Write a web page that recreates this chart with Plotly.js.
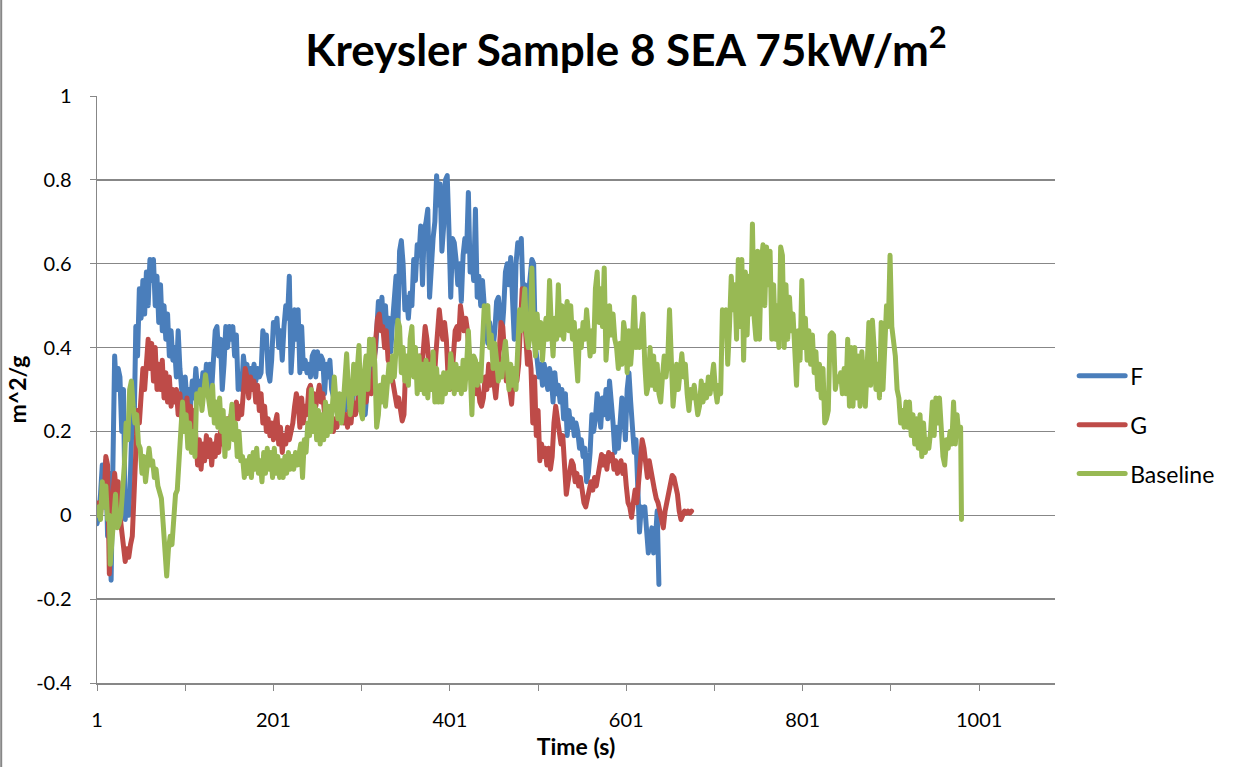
<!DOCTYPE html>
<html>
<head>
<meta charset="utf-8">
<script src="https://cdn.plot.ly/plotly-3.0.1.min.js"></script>
<style>
html,body{margin:0;padding:0;background:#fff;}
#chart{width:1247px;height:767px;}
.scatterlayer path.js-line, .legend path.js-line{stroke-linejoin:round;stroke-linecap:round;}
</style>
</head>
<body>
<div id="chart"></div>
<script>
// [time (s), m^2/g]
const seriesF = [[1,-0.02],[3,0.0],[5,0.05],[7,0.12],[9,0.02],[11,0.13],[13,-0.05],[15,0.1],[17,-0.155],[19,0.05],[21,0.38],[23,0.3],[25,0.35],[27,0.33],[29,0.2],[31,0.3],[33,-0.01],[35,0.05],[37,0.0],[39,0.1],[41,0.25],[43,0.2],[45,0.45],[47,0.38],[49,0.54],[51,0.47],[53,0.56],[55,0.48],[57,0.58],[59,0.5],[61,0.61],[63,0.56],[65,0.61],[67,0.5],[69,0.57],[71,0.46],[73,0.55],[75,0.44],[77,0.5],[79,0.42],[81,0.48],[83,0.38],[85,0.44],[87,0.37],[89,0.4],[91,0.33],[93,0.44],[95,0.35],[97,0.3],[99,0.25],[101,0.33],[103,0.27],[105,0.3],[107,0.26],[109,0.32],[111,0.28],[113,0.35],[115,0.3],[117,0.32],[119,0.29],[121,0.34],[123,0.3],[125,0.36],[127,0.29],
[129,0.36],[131,0.3],[133,0.37],[135,0.44],[137,0.45],[139,0.38],[141,0.42],[143,0.3],[145,0.36],[147,0.45],[149,0.4],[151,0.45],[153,0.42],[155,0.45],[157,0.38],[159,0.43],[161,0.3],[163,0.33],[165,0.3],[167,0.38],[169,0.34],[171,0.36],[173,0.32],[175,0.35],[177,0.33],[179,0.36],[181,0.32],[183,0.35],[185,0.33],[187,0.34],[189,0.44],[191,0.42],[193,0.43],[195,0.34],[197,0.32],[199,0.37],[201,0.46],[203,0.44],[205,0.47],[207,0.4],[209,0.44],[211,0.37],[213,0.45],[215,0.5],[217,0.47],[219,0.57],[221,0.34],[223,0.45],[225,0.49],[227,0.42],[229,0.49],[231,0.34],[233,0.45],[235,0.35],[237,0.37],[239,0.34],[241,0.36],[243,0.33],[245,0.38],[247,0.39],[249,0.33],
[251,0.39],[253,0.35],[255,0.38],[257,0.37],[259,0.29],[261,0.36],[263,0.33],[265,0.37],[267,0.3],[270,0.27],[274,0.24],[278,0.28],[282,0.25],[286,0.3],[290,0.27],[294,0.31],[298,0.28],[302,0.3],[305,0.24],[308,0.32],[311,0.3],[314,0.36],[317,0.4],[320,0.51],[322,0.46],[324,0.52],[326,0.44],[328,0.5],[330,0.42],[332,0.47],[334,0.39],[336,0.46],[338,0.52],[340,0.57],[342,0.44],[344,0.63],[346,0.655],[348,0.6],[350,0.49],[352,0.52],[354,0.47],[356,0.53],[358,0.5],[360,0.61],[362,0.56],[364,0.645],[366,0.62],[368,0.69],[370,0.55],[372,0.68],[374,0.7],[376,0.73],[378,0.52],
[380,0.62],[382,0.66],[384,0.7],[386,0.81],[388,0.74],[390,0.79],[392,0.63],[394,0.69],[396,0.8],[398,0.81],[400,0.68],[402,0.52],[404,0.66],[406,0.65],[408,0.61],[410,0.55],[412,0.6],[414,0.51],[416,0.62],[418,0.66],[420,0.63],[422,0.77],[424,0.58],[426,0.62],[428,0.56],[430,0.73],[432,0.52],[434,0.57],[436,0.5],[438,0.56],[440,0.5],[442,0.45],[444,0.41],[446,0.46],[448,0.43],[450,0.4],[452,0.44],[454,0.51],[456,0.52],[458,0.47],[460,0.43],[462,0.49],[464,0.58],[466,0.6],[468,0.55],[470,0.615],[472,0.5],[474,0.42],[476,0.6],[478,0.65],[480,0.63],[482,0.66],[484,0.52],[486,0.55],[488,0.48],[490,0.53],[492,0.57],[494,0.61],[496,0.6],[498,0.4],[500,0.37],[502,0.33],[504,0.36],
[506,0.31],[508,0.36],[510,0.33],[512,0.3],[514,0.35],[516,0.33],[518,0.27],[520,0.34],[522,0.29],[524,0.31],[526,0.27],[528,0.3],[530,0.23],[532,0.29],[534,0.19],[536,0.25],[538,0.21],[540,0.23],[542,0.19],[544,0.22],[546,0.2],[548,0.16],[550,0.18],[552,0.14],[554,0.16],[556,0.08],[558,0.1],[560,0.15],[562,0.24],[564,0.2],[566,0.23],[568,0.29],[570,0.26],[572,0.21],[574,0.28],[576,0.24],[578,0.3],[580,0.23],[582,0.32],[584,0.28],[586,0.22],[588,0.15],[590,0.21],[592,0.16],[594,0.22],[596,0.28],[598,0.25],[600,0.18],[602,0.3],[604,0.34],[606,0.27],[608,0.2],[610,0.15],[612,0.18],[614,0.03],[616,-0.04],[618,0.02],[620,0.0],[622,0.02],[624,-0.05],[626,-0.09],[628,-0.06],[630,-0.03],[632,-0.09],[634,-0.06],[636,0.01],[638,-0.165]];

const seriesG = [[1,0.01],[3,0.03],[5,0.0],[7,0.06],[9,0.03],[11,0.14],[13,0.12],[14,-0.14],[15,-0.14],[17,0.0],[19,0.04],[21,0.1],[23,0.05],[25,0.08],[27,0.0],[29,-0.03],[31,-0.08],[33,-0.11],[35,-0.08],[37,-0.1],[39,-0.07],[41,-0.05],[43,0.05],[45,0.15],[47,0.25],[49,0.22],[51,0.3],[53,0.35],[55,0.3],[57,0.38],[59,0.42],[61,0.35],[63,0.41],[65,0.32],[67,0.4],[69,0.3],[71,0.36],[73,0.3],[75,0.37],[77,0.28],[79,0.34],[81,0.27],[83,0.33],[85,0.26],[87,0.3],[89,0.27],[91,0.3],[93,0.24],[95,0.29],[97,0.23],[99,0.27],[101,0.23],[103,0.28],[105,0.22],[107,0.26],[109,0.21],[111,0.25],[113,0.19],[115,0.12],[117,0.18],[119,0.11],[121,0.17],[123,0.13],[125,0.19],[127,0.14],
[129,0.18],[131,0.12],[133,0.17],[135,0.14],[137,0.19],[139,0.15],[141,0.2],[143,0.17],[145,0.22],[147,0.18],[149,0.23],[151,0.19],[153,0.24],[155,0.2],[157,0.25],[159,0.27],[161,0.23],[163,0.26],[165,0.24],[167,0.3],[169,0.35],[171,0.33],[173,0.28],[175,0.33],[177,0.3],[179,0.32],[181,0.27],[183,0.31],[185,0.25],[187,0.29],[189,0.22],[191,0.26],[193,0.2],[195,0.23],[197,0.19],[199,0.22],[201,0.18],[203,0.22],[205,0.24],[207,0.17],[209,0.21],[211,0.15],[213,0.19],[215,0.17],[217,0.21],[219,0.18],[221,0.2],[223,0.22],[225,0.26],[227,0.29],[229,0.27],[231,0.21],[233,0.28],[235,0.22],[237,0.26],[239,0.24],[241,0.3],[243,0.31],[245,0.28],[247,0.29],[249,0.26],[251,0.28],
[253,0.31],[255,0.27],[257,0.29],[259,0.24],[261,0.22],[263,0.21],[265,0.2],[267,0.22],[269,0.2],[271,0.23],[273,0.21],[275,0.24],[277,0.23],[279,0.25],[281,0.22],[283,0.24],[285,0.21],[287,0.25],[289,0.22],[291,0.27],[294,0.24],[297,0.28],[300,0.25],[303,0.3],[306,0.27],[309,0.32],[312,0.29],[315,0.35],[317,0.42],[319,0.47],[321,0.48],[323,0.44],[325,0.45],[327,0.4],[329,0.44],[331,0.37],[333,0.36],[335,0.33],[337,0.3],[339,0.29],[341,0.26],[343,0.28],[345,0.25],[347,0.225],[349,0.24],[351,0.36],[353,0.34],[355,0.38],[357,0.35],[359,0.38],[361,0.34],[363,0.37],[365,0.35],[367,0.38],[369,0.34],[371,0.4],[373,0.45],[375,0.42],[377,0.38],
[379,0.33],[381,0.36],[383,0.31],[385,0.38],[387,0.43],[389,0.49],[391,0.45],[393,0.42],[395,0.46],[397,0.42],[399,0.33],[401,0.3],[403,0.32],[405,0.38],[407,0.44],[409,0.45],[411,0.42],[413,0.5],[415,0.46],[417,0.44],[419,0.47],[421,0.44],[423,0.38],[425,0.34],[427,0.3],[429,0.34],[431,0.29],[433,0.31],[435,0.27],[437,0.26],[439,0.28],[441,0.33],[443,0.3],[445,0.36],[447,0.31],[449,0.35],[451,0.31],[453,0.28],[455,0.33],[457,0.4],[459,0.46],[461,0.45],[463,0.4],[465,0.32],[467,0.33],[469,0.3],[471,0.265],[473,0.33],[475,0.35],[477,0.32],[479,0.36],[481,0.45],[483,0.54],[485,0.5],[487,0.4],[489,0.36],[491,0.39],[493,0.35],[495,0.22],[497,0.33],[499,0.19],[501,0.25],[503,0.13],
[505,0.17],[507,0.14],[509,0.16],[511,0.12],[513,0.16],[515,0.11],[517,0.14],[519,0.22],[521,0.26],[523,0.23],[525,0.2],[527,0.17],[529,0.19],[531,0.09],[533,0.05],[535,0.08],[537,0.1],[539,0.13],[541,0.12],[543,0.08],[545,0.1],[547,0.07],[549,0.09],[551,0.05],[553,0.03],[555,0.02],[557,0.04],[559,0.06],[561,0.08],[563,0.06],[565,0.09],[567,0.07],[569,0.1],[571,0.11],[573,0.145],[575,0.12],[577,0.14],[579,0.11],[581,0.15],[583,0.13],[585,0.145],[587,0.11],[589,0.13],[591,0.1],[593,0.12],[595,0.13],[597,0.1],[599,0.12],[601,0.07],[603,0.03],[605,0.02],[607,-0.005],[609,0.03],[611,0.06],[613,0.03],[615,0.08],[617,0.14],[619,0.18],[621,0.16],[623,0.12],[625,0.09],[627,0.13],[629,0.1],[631,0.09],[633,0.06],[635,0.04],[637,0.03],[639,0.01],[641,-0.01],[643,-0.03],[645,0.01],[647,0.03],[649,0.05],[651,0.08],[653,0.095],[655,0.09],[657,0.07],[659,0.05],[661,0.01],[663,-0.01],[665,0.0],[667,0.01],[669,0.005],[671,0.01],[673,0.005],[675,0.01]];

const seriesBaseline = [[1,0.0],[3,0.02],[5,-0.01],[7,0.08],[9,0.02],[11,0.07],[13,-0.01],[15,0.0],[16,-0.117],[18,-0.05],[20,0.03],[22,0.05],[24,-0.03],[26,-0.02],[28,0.0],[30,0.05],[32,0.12],[34,0.22],[36,0.18],[38,0.3],[40,0.32],[42,0.26],[44,0.22],[46,0.24],[48,0.17],[50,0.16],[52,0.1],[54,0.14],[56,0.08],[58,0.12],[60,0.16],[62,0.12],[64,0.13],[66,0.09],[68,0.11],[70,0.07],[72,0.05],[74,0.04],[76,-0.02],[78,-0.1],[80,-0.145],[82,-0.08],[84,-0.05],[86,-0.07],[88,-0.01],[90,0.05],[92,0.06],[94,0.12],[96,0.21],[98,0.27],[100,0.2],[102,0.24],[104,0.16],[106,0.22],[108,0.15],[110,0.2],[112,0.14],[114,0.29],[116,0.27],[118,0.3],[120,0.25],[122,0.31],[124,0.335],[126,0.3],[128,0.27],
[130,0.24],[132,0.31],[134,0.22],[136,0.27],[138,0.21],[140,0.28],[142,0.2],[144,0.25],[146,0.14],[148,0.23],[150,0.16],[152,0.22],[154,0.265],[156,0.18],[158,0.22],[160,0.14],[162,0.2],[164,0.13],[166,0.14],[168,0.09],[170,0.13],[172,0.1],[174,0.14],[176,0.09],[178,0.15],[180,0.11],[182,0.16],[184,0.1],[186,0.13],[188,0.08],[190,0.15],[192,0.1],[194,0.16],[196,0.11],[198,0.15],[200,0.09],[202,0.16],[204,0.1],[206,0.14],[208,0.09],[210,0.13],[212,0.09],[214,0.14],[216,0.1],[218,0.15],[220,0.11],[222,0.14],[224,0.11],[226,0.15],[228,0.12],[230,0.14],[232,0.17],[234,0.09],[236,0.18],[238,0.15],[240,0.22],[242,0.19],[244,0.3],[246,0.2],[248,0.26],[250,0.18],
[252,0.25],[254,0.17],[256,0.24],[258,0.18],[260,0.27],[262,0.19],[264,0.26],[266,0.2],[268,0.3],[270,0.33],[272,0.27],[274,0.23],[276,0.29],[278,0.22],[280,0.26],[282,0.34],[284,0.385],[286,0.3],[288,0.24],[290,0.28],[292,0.36],[294,0.29],[296,0.34],[298,0.405],[300,0.25],[302,0.23],[304,0.34],[306,0.38],[308,0.3],[310,0.42],[312,0.36],[314,0.42],[316,0.36],[318,0.21],[320,0.24],[322,0.31],[324,0.27],[326,0.33],[328,0.26],[330,0.32],[332,0.36],[334,0.32],[336,0.38],[338,0.33],[340,0.42],[342,0.465],[344,0.45],[346,0.34],[348,0.4],[350,0.32],[352,0.38],[354,0.31],[356,0.42],[358,0.45],[360,0.33],[362,0.4],[364,0.29],[366,0.38],[368,0.3],[370,0.36],[372,0.29],[374,0.37],[376,0.28],[378,0.36],
[380,0.3],[382,0.39],[384,0.27],[386,0.35],[388,0.27],[390,0.33],[392,0.27],[394,0.34],[396,0.29],[398,0.34],[400,0.3],[402,0.385],[404,0.35],[406,0.29],[408,0.36],[410,0.3],[412,0.35],[414,0.29],[416,0.37],[418,0.3],[420,0.36],[422,0.44],[424,0.35],[426,0.24],[428,0.38],[430,0.37],[432,0.31],[434,0.36],[436,0.32],[438,0.4],[440,0.5],[442,0.48],[444,0.5],[446,0.4],[448,0.43],[450,0.35],[452,0.41],[454,0.37],[456,0.32],[458,0.36],[460,0.33],[462,0.38],[464,0.415],[466,0.36],[468,0.3],[470,0.36],[472,0.31],[474,0.35],[476,0.3],[478,0.4],[480,0.49],[482,0.44],[484,0.5],[486,0.54],[488,0.43],[490,0.4],[492,0.43],[494,0.59],[496,0.44],[498,0.38],[500,0.48],[502,0.4],[504,0.46],
[506,0.37],[508,0.43],[510,0.47],[512,0.42],[514,0.56],[516,0.45],[518,0.38],[520,0.47],[522,0.42],[524,0.55],[526,0.43],[528,0.5],[530,0.42],[532,0.48],[534,0.51],[536,0.44],[538,0.5],[540,0.42],[542,0.46],[544,0.38],[546,0.32],[548,0.44],[550,0.4],[552,0.46],[554,0.42],[556,0.49],[558,0.44],[560,0.38],[562,0.44],[564,0.39],[566,0.54],[568,0.58],[570,0.46],[572,0.54],[574,0.45],[576,0.59],[578,0.37],[580,0.45],[582,0.5],[584,0.43],[586,0.48],[588,0.42],[590,0.4],[592,0.35],[594,0.41],[596,0.36],[598,0.46],[600,0.43],[602,0.34],[604,0.44],[606,0.36],[608,0.42],[610,0.52],[612,0.4],[614,0.44],[616,0.4],[618,0.46],[620,0.48],[622,0.36],[624,0.29],[626,0.31],[628,0.4],
[630,0.31],[632,0.38],[634,0.3],[636,0.36],[638,0.29],[640,0.27],[642,0.33],[644,0.38],[646,0.33],[648,0.37],[650,0.49],[652,0.33],[654,0.26],[656,0.31],[658,0.36],[660,0.3],[662,0.35],[664,0.385],[666,0.33],[668,0.36],[670,0.29],[672,0.25],[674,0.3],[676,0.28],[678,0.31],[680,0.27],[682,0.24],[684,0.26],[686,0.32],[688,0.27],[690,0.31],[692,0.28],[694,0.33],[696,0.29],[698,0.32],[700,0.36],[702,0.3],[704,0.27],[706,0.31],[708,0.29],[710,0.49],[712,0.48],[714,0.49],[716,0.36],[718,0.45],[720,0.57],[722,0.49],[724,0.55],[726,0.42],[728,0.61],[730,0.45],[732,0.61],[734,0.37],[736,0.58],[738,0.43],[740,0.57],[742,0.48],[744,0.695],[746,0.47],[748,0.42],[750,0.63],
[752,0.42],[754,0.6],[756,0.645],[758,0.5],[760,0.64],[762,0.55],[764,0.63],[766,0.42],[768,0.55],[770,0.42],[772,0.5],[774,0.4],[776,0.64],[778,0.62],[780,0.4],[782,0.55],[784,0.42],[786,0.52],[788,0.44],[790,0.48],[792,0.4],[794,0.31],[796,0.44],[798,0.37],[800,0.56],[802,0.4],[804,0.47],[806,0.37],[808,0.44],[810,0.36],[812,0.43],[814,0.34],[816,0.39],[818,0.3],[820,0.36],[822,0.28],[824,0.35],[826,0.22],[828,0.23],[830,0.25],[832,0.43],[834,0.435],[836,0.43],[838,0.3],[840,0.33],[842,0.32],[844,0.34],[846,0.29],[848,0.35],[850,0.29],[852,0.42],[854,0.26],[856,0.4],[858,0.26],[860,0.4],[862,0.28],[864,0.38],[866,0.26],[868,0.39],[870,0.3],[872,0.26],[874,0.35],[876,0.46],[878,0.31],
[880,0.465],[882,0.4],[884,0.3],[886,0.36],[888,0.28],[890,0.46],[892,0.3],[894,0.4],[896,0.5],[898,0.45],[900,0.62],[902,0.45],[904,0.41],[906,0.38],[908,0.3],[910,0.28],[912,0.22],[914,0.25],[916,0.21],[918,0.27],[920,0.21],[922,0.27],[924,0.19],[926,0.24],[928,0.17],[930,0.23],[932,0.16],[934,0.24],[936,0.14],[938,0.22],[940,0.15],[942,0.18],[944,0.16],[946,0.2],[948,0.27],[950,0.19],[952,0.28],[954,0.22],[956,0.28],[958,0.2],[960,0.14],[962,0.12],[964,0.18],[966,0.16],[968,0.2],[970,0.17],[972,0.27],[974,0.17],[976,0.24],[978,0.19],[980,0.21],[981,-0.01]];

const seriesNames = ['F', 'G', 'Baseline'];
const seriesColors = ['#4A7EBB', '#BE4B48', '#98B954'];
const xTickVals = [1, 201, 401, 601, 801, 1001];
const xTickText = ['1', '201', '401', '601', '801', '1001'];
const xMinorTickVals = [101, 301, 501, 701, 901];
const yTickVals = [-0.4, -0.2, 0, 0.2, 0.4, 0.6, 0.8, 1];
const yTickText = ['-0.4', '-0.2', '0', '0.2', '0.4', '0.6', '0.8', '1'];

const allSeries = [seriesF, seriesG, seriesBaseline];
const traces = allSeries.map((s, i) => ({
  type: 'scatter',
  mode: 'lines',
  name: seriesNames[i],
  legendgroup: 'g' + i,
  x: s.map(p => p[0]),
  y: s.map(p => p[1]),
  line: {color: seriesColors[i], width: 5, shape: 'linear'},
  hoverinfo: 'x+y+name'
}));

const FONT = 'Lato, "Open Sans", "DejaVu Sans", sans-serif';
const grey = '#878787';

const layout = {
  width: 1247,
  height: 767,
  margin: {l: 97, r: 192, t: 96, b: 84, pad: 0},
  paper_bgcolor: '#ffffff',
  plot_bgcolor: '#ffffff',
  font: {family: FONT, color: '#000000', size: 20},
  title: {
    text: '<b>Kreysler Sample 8 SEA 75kW/m<sup>2</sup></b>',
    font: {family: FONT, size: 44, color: '#000'},
    x: 0.502, xref: 'container', xanchor: 'center',
    y: 1 - 51 / 767, yref: 'container', yanchor: 'middle'
  },
  xaxis: {
    range: [1, 1087],
    tickmode: 'array',
    tickvals: xTickVals,
    ticktext: xTickText,
    ticks: 'outside',
    ticklen: 6,
    tickwidth: 1,
    tickcolor: grey,
    ticklabelstandoff: 12,
    minor: {tickmode: 'array', tickvals: xMinorTickVals, ticks: 'outside', ticklen: 6, tickwidth: 1, tickcolor: grey, showgrid: false},
    showline: true,
    linecolor: grey,
    linewidth: 1.5,
    showgrid: false,
    zeroline: false,
    tickfont: {family: FONT, size: 20, color: '#000'},
    title: {text: '<b>Time (s)</b>', font: {family: FONT, size: 23, color: '#000'}, standoff: 9}
  },
  yaxis: {
    range: [-0.4, 1],
    tickmode: 'array',
    tickvals: yTickVals,
    ticktext: yTickText,
    ticks: 'outside',
    ticklen: 6,
    tickwidth: 1,
    tickcolor: grey,
    ticklabelstandoff: 14,
    showline: true,
    linecolor: grey,
    linewidth: 1.5,
    showgrid: true,
    gridcolor: grey,
    gridwidth: 1.5,
    zeroline: false,
    tickfont: {family: FONT, size: 20, color: '#000'},
    title: {text: '<b>m^2/g</b>', font: {family: FONT, size: 23, color: '#000'}, standoff: 3}
  },
  showlegend: true,
  legend: {
    x: 1.02, xanchor: 'left',
    y: 0.56, yanchor: 'top',
    font: {family: FONT, size: 23, color: '#000'},
    tracegroupgap: 16,
    itemwidth: 46,
    bgcolor: 'rgba(0,0,0,0)'
  },
  shapes: [{
    type: 'line', xref: 'paper', yref: 'paper',
    x0: -0.1, x1: -0.1, y0: -0.15, y1: 1.17,
    line: {color: grey, width: 2}
  }]
};

Plotly.newPlot('chart', traces, layout, {displayModeBar: false, staticPlot: true});
</script>
</body>
</html>
